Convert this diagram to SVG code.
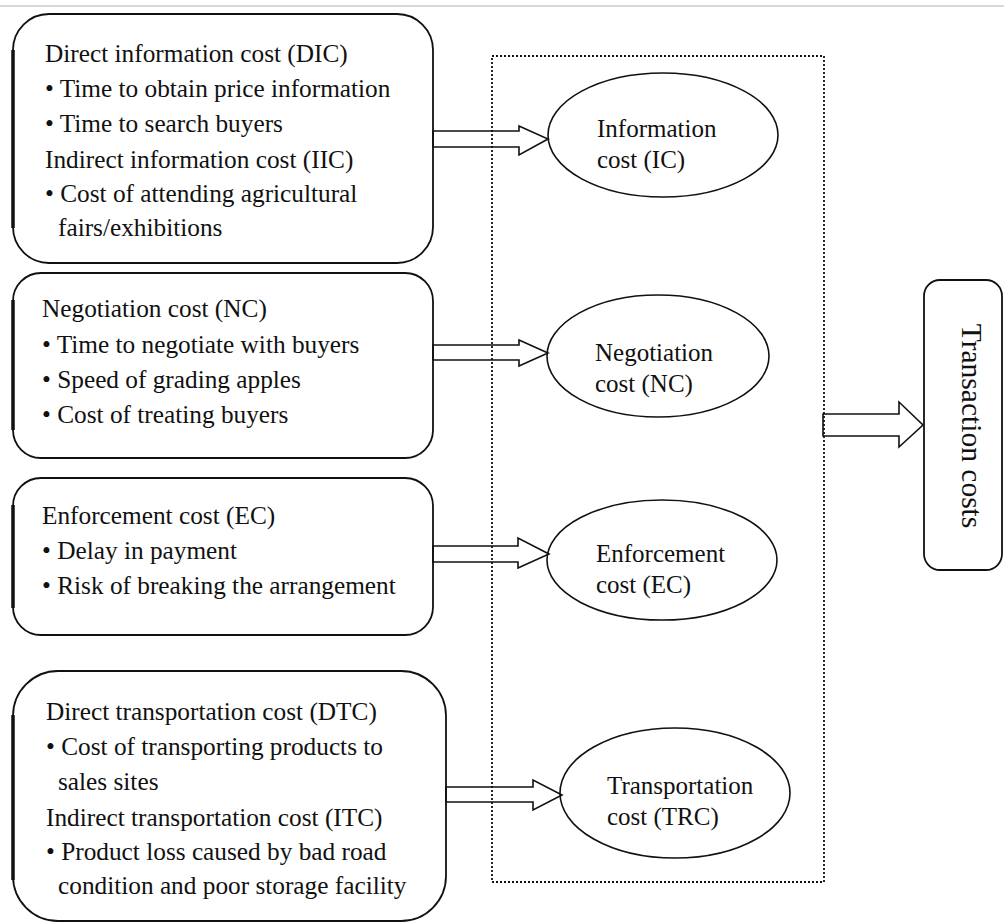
<svg xmlns="http://www.w3.org/2000/svg" width="1004" height="924" viewBox="0 0 1004 924">
<style>
text{font-family:"Liberation Serif","Times New Roman",serif;font-size:25.3px;fill:#111}
.et{font-size:25px}
.box{fill:none;stroke:#111;stroke-width:1.8}
.edge{stroke:#111;stroke-width:3.5}
.ell{fill:none;stroke:#111;stroke-width:1.6}
.arr{fill:none;stroke:#111;stroke-width:1.6;stroke-linejoin:miter}
.dot{fill:none;stroke:#111;stroke-width:1.8;stroke-dasharray:2 2}
</style>
<rect width="1004" height="924" fill="#fff"/>
<line x1="0" y1="6" x2="1004" y2="6" stroke="#d8d8d8" stroke-width="2"/>
<g id="group-box">
<rect class="dot" x="492" y="56" width="332" height="826"/>
</g>
<g id="box-info">
<rect class="box" x="13" y="14" width="420" height="249" rx="36" ry="36"/>
<line class="edge" x1="13" y1="50" x2="13" y2="228"/>
<text x="45" y="62">Direct information cost (DIC)</text>
<text x="45" y="97">• Time to obtain price information</text>
<text x="45" y="132">• Time to search buyers</text>
<text x="45" y="168">Indirect information cost (IIC)</text>
<text x="45" y="202">• Cost of attending agricultural</text>
<text x="58" y="236">fairs/exhibitions</text>
</g>
<g id="box-neg">
<rect class="box" x="13" y="273" width="420" height="185" rx="28" ry="28"/>
<line class="edge" x1="13" y1="300" x2="13" y2="430"/>
<text x="42" y="317">Negotiation cost (NC)</text>
<text x="42" y="353">• Time to negotiate with buyers</text>
<text x="42" y="388">• Speed of grading apples</text>
<text x="42" y="423">• Cost of treating buyers</text>
</g>
<g id="box-enf">
<rect class="box" x="13" y="478" width="420" height="157" rx="28" ry="28"/>
<line class="edge" x1="13" y1="505" x2="13" y2="608"/>
<text x="42" y="524">Enforcement cost (EC)</text>
<text x="42" y="559">• Delay in payment</text>
<text x="42" y="594">• Risk of breaking the arrangement</text>
</g>
<g id="box-trans">
<rect class="box" x="13" y="671" width="433" height="250" rx="45" ry="45"/>
<line class="edge" x1="13" y1="715" x2="13" y2="880"/>
<text x="46" y="720">Direct transportation cost (DTC)</text>
<text x="46" y="755">• Cost of transporting products to</text>
<text x="58" y="790">sales sites</text>
<text x="46" y="826">Indirect transportation cost (ITC)</text>
<text x="46" y="860">• Product loss caused by bad road</text>
<text x="58" y="894">condition and poor storage facility</text>
</g>
<g id="ell-ic">
<ellipse class="ell" cx="663" cy="135" rx="115" ry="62"/>
<text class="et" x="597" y="137">Information</text>
<text class="et" x="597" y="168">cost (IC)</text>
</g>
<g id="ell-nc">
<ellipse class="ell" cx="658" cy="356" rx="111" ry="61"/>
<text class="et" x="595" y="361">Negotiation</text>
<text class="et" x="595" y="392">cost (NC)</text>
</g>
<g id="ell-ec">
<ellipse class="ell" cx="662" cy="560" rx="115" ry="60"/>
<text class="et" x="596" y="562">Enforcement</text>
<text class="et" x="596" y="593">cost (EC)</text>
</g>
<g id="ell-trc">
<ellipse class="ell" cx="675" cy="793" rx="115" ry="65"/>
<text class="et" x="607" y="794">Transportation</text>
<text class="et" x="607" y="825">cost (TRC)</text>
</g>
<g id="box-tc">
<rect class="box" x="924" y="280" width="78" height="290" rx="16" ry="16"/>
<text transform="translate(962,426) rotate(90)" text-anchor="middle" style="font-size:29.5px">Transaction costs</text>
</g>
<g id="connectors">
<polygon class="arr" points="433,131 519,131 519,126 548,139 519,155 519,147 433,147"/>
<polygon class="arr" points="433,345 519,345 519,340 548,353 519,366 519,360 433,360"/>
<polygon class="arr" points="433,546 518,546 518,538 549,554 518,568 518,562 433,562"/>
<polygon class="arr" points="446,787 533,787 533,780 562,795 533,810 533,802 446,802"/>
<polygon class="arr" points="823,414 899,414 899,402 923,425 899,447 899,436 823,436"/>
</g>
</svg>
